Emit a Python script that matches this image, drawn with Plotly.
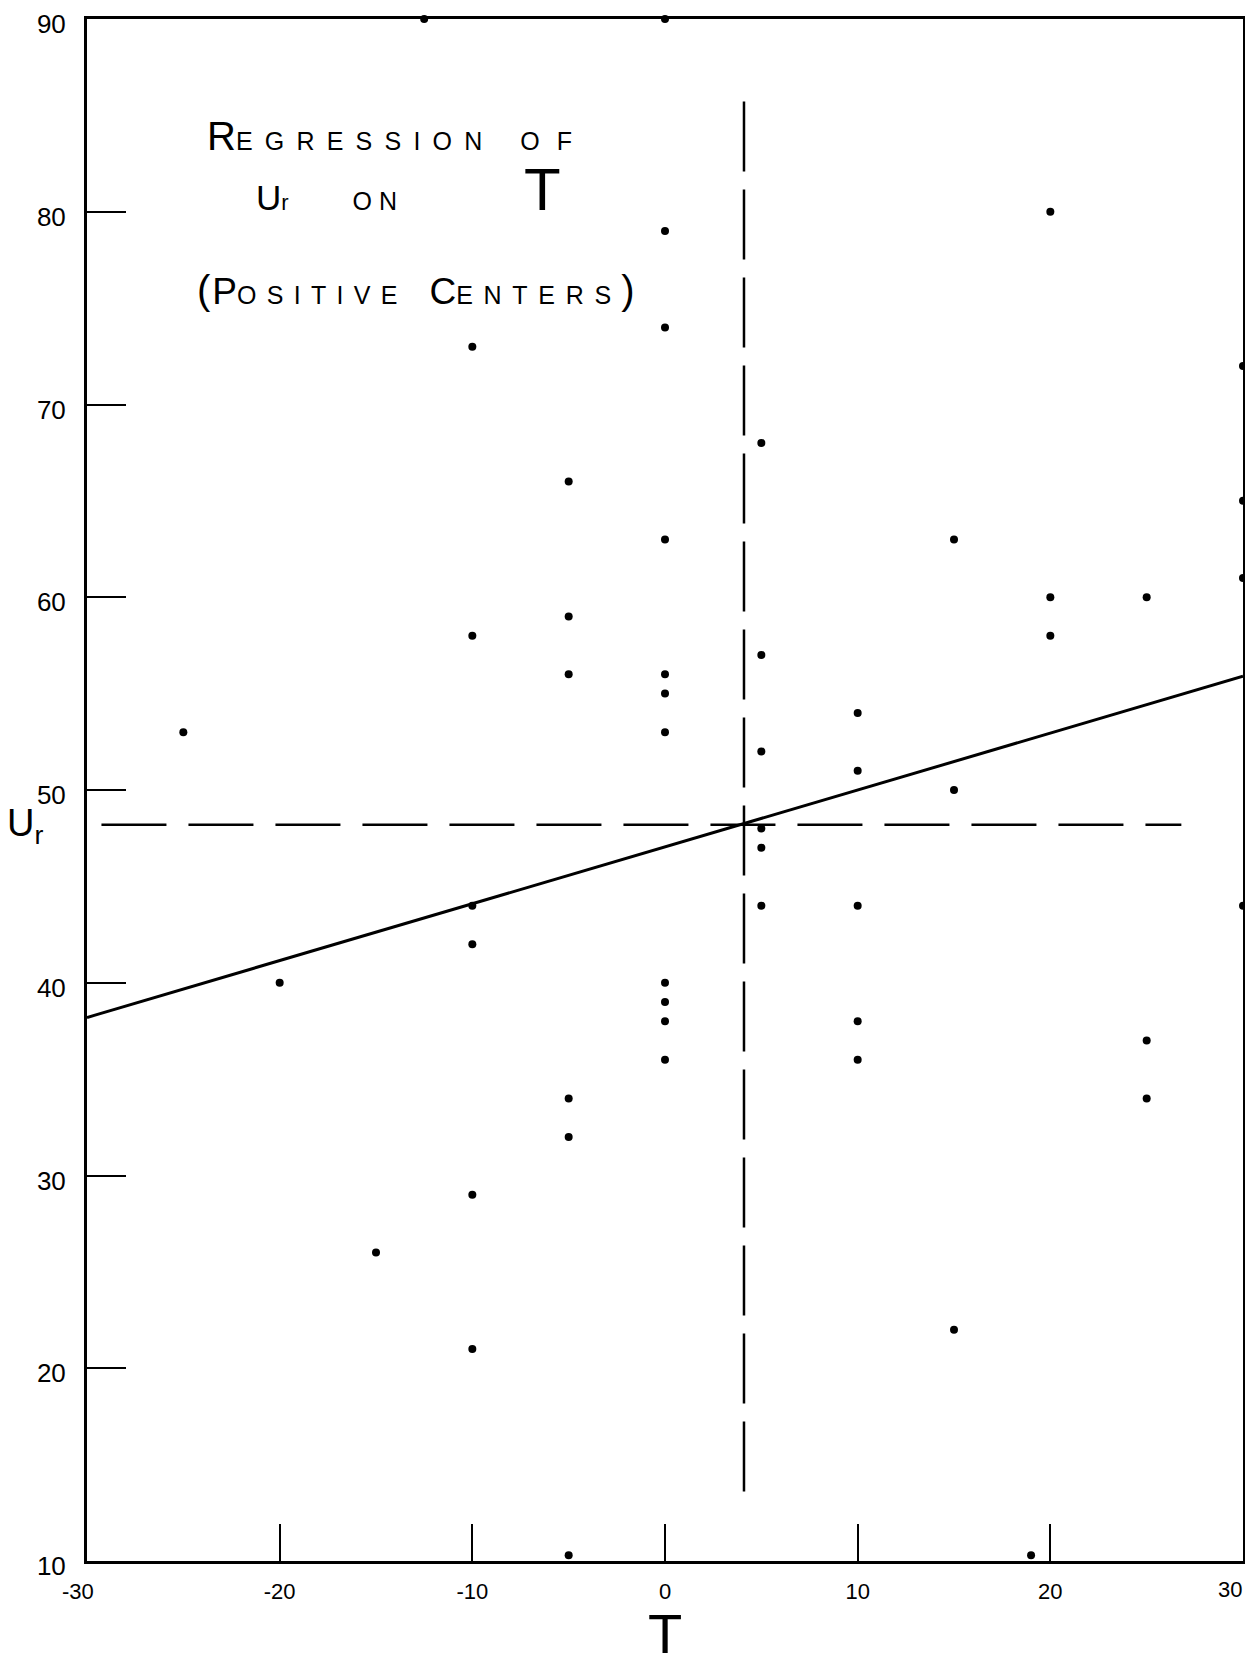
import math
import plotly.graph_objects as go

# ---- data ----
T_points = [-12.5, 0, 20, 0, 0, -10, 30, 5, -5, 30, 0, 15, 30, 20, 25, -5, -10, 20, 5,
            -5, 0, 0, 10, -25, 0, 5, 10, 15, 5, 5, -10, 5, 10, 30, -10, -20, 0, 0, 0,
            10, 25, 0, 10, -5, 25, -5, -10, -15, 15, -10, -5, 19]
U_points = [90, 90, 80, 79, 74, 73, 72, 68, 66, 65, 63, 63, 61, 60, 60, 59, 58, 58, 57,
            56, 56, 55, 54, 53, 53, 52, 51, 50, 48, 47, 44, 44, 44, 44, 42, 40, 40, 39, 38,
            38, 37, 36, 36, 34, 34, 32, 29, 26, 22, 21, 10.3, 10.3]

# regression line end points
reg_T = [-30, 30]
reg_U = [38.2, 55.9]

# means (dashed reference lines)
mean_T = 4.1
mean_U = 48.2
vline_U = [13.6, 86.5]
hline_T = [-29.25, 26.8]

x_ticks = [-30, -20, -10, 0, 10, 20, 30]
x_ticktext = ["-30", "-20", "-10", "0", "10", "20", "30"]
y_ticks = [10, 20, 30, 40, 50, 60, 70, 80, 90]
y_ticktext = ["10", "20", "30", "40", "50", "60", "70", "80", "90"]

FONT = "Liberation Sans"
EN = "\u2002"

fig = go.Figure()

fig.add_trace(go.Scatter(
    x=[mean_T, mean_T], y=vline_U, mode="lines",
    line=dict(color="black", width=2.5, dash="70px,18px"),
    hoverinfo="skip", showlegend=False))
fig.add_trace(go.Scatter(
    x=hline_T, y=[mean_U, mean_U], mode="lines",
    line=dict(color="black", width=2.5, dash="65px,22px"),
    hoverinfo="skip", showlegend=False))
fig.add_trace(go.Scatter(
    x=reg_T, y=reg_U, mode="lines",
    line=dict(color="black", width=3),
    showlegend=False))
fig.add_trace(go.Scatter(
    x=T_points, y=U_points, mode="markers",
    marker=dict(color="black", size=8),
    cliponaxis=False, showlegend=False))


def span(txt, size):
    return f"<span style='font-size:{size}px'>{txt}</span>"


def gap(px):
    n = max(1, math.ceil(px / 14.0))
    s = round(2.0 * px / n, 1)
    return span(EN * n, s)


def spaced(word, size, g):
    parts = [span(ch, size) for ch in word]
    return gap(g).join(parts)


line1 = span("R", 40) + spaced("EGRESSION", 25, 12.2) + gap(38) + spaced("OF", 25, 17)
line2 = span("U", 35) + span("r", 22) + gap(64) + spaced("ON", 25, 7) + gap(127) + span("T", 60)
line3 = span("(", 40) + gap(2) + span("P", 37) + spaced("OSITIVE", 25, 10.3) + gap(32) + \
        span("C", 37) + spaced("ENTERS", 25, 10.7) + gap(10) + span(")", 40)

# axis tick labels: the end labels are nudged inwards like the hand lettering
axis_ticktext = [x_ticktext[0] + "   "] + x_ticktext[1:-1] + [""]

annotations = [
    dict(x=-23.85, y=83.95, xref="x", yref="y", text=line1, showarrow=False,
         font=dict(family=FONT, size=25, color="black"), xanchor="left", yanchor="middle"),
    dict(x=-21.35, y=81.14, xref="x", yref="y", text=line2, showarrow=False,
         font=dict(family=FONT, size=25, color="black"), xanchor="left", yanchor="middle"),
    dict(x=-24.40, y=75.96, xref="x", yref="y", text=line3, showarrow=False,
         font=dict(family=FONT, size=25, color="black"), xanchor="left", yanchor="middle"),
    dict(x=x_ticks[-1], y=-0.0188, xref="x", yref="paper", text=x_ticktext[-1],
         showarrow=False, xshift=1,
         font=dict(family=FONT, size=22, color="black"), xanchor="right", yanchor="middle"),
    dict(x=0.5, y=-0.0688, xref="paper", yref="paper", text="T", showarrow=False,
         font=dict(family=FONT, size=56, color="black"), xanchor="center", yanchor="bottom"),
    dict(x=-0.0535, y=0.4765, xref="paper", yref="paper",
         text="U<sub>r</sub>", showarrow=False,
         font=dict(family=FONT, size=38, color="black"), xanchor="center", yanchor="middle"),
]

fig.update_layout(
    width=1237, height=1660, autosize=False,
    margin=dict(l=79, r=2, t=11, b=107, autoexpand=False),
    paper_bgcolor="white", plot_bgcolor="white",
    showlegend=False,
    annotations=annotations,
    font=dict(family=FONT, size=20, color="black"),
)
fig.update_xaxes(
    range=[-30, 30], tickvals=x_ticks, ticktext=axis_ticktext,
    ticks="inside", ticklen=37, tickwidth=2, tickcolor="black",
    showline=True, linecolor="black", linewidth=3, mirror=True,
    showgrid=False, zeroline=False, ticklabelstandoff=9,
    ticklabeloverflow="allow", automargin=False,
    tickfont=dict(family=FONT, size=22, color="black"),
)
fig.update_yaxes(
    range=[10, 90], tickvals=y_ticks, ticktext=y_ticktext,
    ticks="inside", ticklen=39, tickwidth=2, tickcolor="black",
    showline=True, linecolor="black", linewidth=3, mirror=True,
    showgrid=False, zeroline=False, ticklabelstandoff=13, ticklabelshift=5,
    ticklabeloverflow="allow", automargin=False,
    tickfont=dict(family=FONT, size=26, color="black"),
)

fig.write_html("out.html")
